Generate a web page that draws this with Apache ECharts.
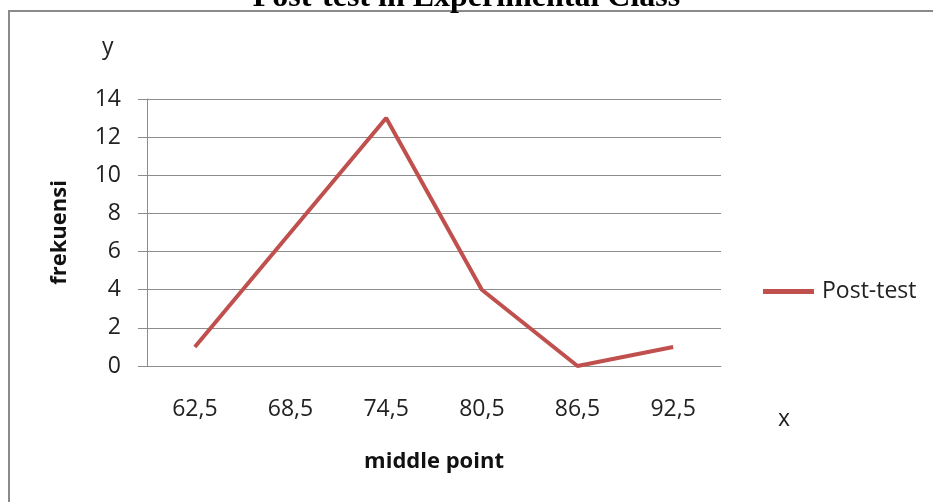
<!DOCTYPE html>
<html>
<head>
<meta charset="utf-8">
<script src="https://cdn.jsdelivr.net/npm/echarts@6/dist/echarts.min.js"></script>
<style>
  html, body { margin: 0; padding: 0; background: #fff; }
  #chart { width: 933px; height: 502px; }
</style>
</head>
<body>
<div id="chart"></div>
<script>
// Frequency of post-test scores by class middle point
const middlePoints = ['62,5', '68,5', '74,5', '80,5', '86,5', '92,5'];
const postTest = [1, 7, 13, 4, 0, 1];
const yTicks = { min: 0, max: 14, interval: 2 };

const FONT = '"Open Sans", "DejaVu Sans", sans-serif';
const chart = echarts.init(document.getElementById('chart'));

chart.setOption({
  animation: false,
  backgroundColor: '#fff',
  grid: { left: 147, right: 212, top: 99, bottom: 136, containLabel: false },
  legend: {
    left: 763, top: 280, padding: 0,
    itemWidth: 51, itemHeight: 5, itemGap: 0,
    icon: 'rect',
    textStyle: { fontFamily: FONT, fontSize: 23, color: '#222', padding: [0, 0, 0, 3] },
    data: ['Post-test']
  },
  xAxis: {
    type: 'category',
    data: middlePoints,
    boundaryGap: true,
    name: 'middle point',
    nameLocation: 'middle',
    nameGap: 85,
    nameTextStyle: { fontFamily: FONT, fontSize: 22, fontWeight: 'bold', color: '#111' },
    axisLine: { show: true, lineStyle: { color: '#8c8c8c', width: 1 } },
    axisTick: { show: false },
    axisLabel: { margin: 32, fontFamily: FONT, fontSize: 23, color: '#222' },
    splitLine: { show: false }
  },
  yAxis: {
    type: 'value',
    min: yTicks.min, max: yTicks.max, interval: yTicks.interval,
    name: 'frekuensi',
    nameLocation: 'middle',
    nameGap: 76,
    nameTextStyle: { fontFamily: FONT, fontSize: 22, fontWeight: 'bold', color: '#111' },
    axisLine: { show: true, lineStyle: { color: '#8c8c8c', width: 1 } },
    axisTick: { show: true, inside: false, length: 9, lineStyle: { color: '#8c8c8c' } },
    axisLabel: { margin: 26, fontFamily: FONT, fontSize: 23, color: '#222' },
    splitLine: { show: true, lineStyle: { color: '#8c8c8c', width: 1 } }
  },
  series: [{
    name: 'Post-test',
    type: 'line',
    data: postTest,
    symbol: 'none',
    color: '#C0504D',
    lineStyle: { color: '#C0504D', width: 4 }
  }],
  graphic: [
    {
      type: 'rect', silent: true, z: -1,
      shape: { x: 9, y: 11, width: 1000, height: 600 },
      style: { fill: 'none', stroke: '#8a8a8a', lineWidth: 2 }
    },
    {
      type: 'text', left: 'center', top: -18,
      style: {
        text: 'Post-test in Experimental Class',
        font: 'bold 32px "Liberation Serif", "DejaVu Serif", serif',
        fill: '#000'
      }
    },
    {
      type: 'text', left: 102, top: 36,
      style: { text: 'y', font: '23px ' + FONT, fill: '#222' }
    },
    {
      type: 'text', left: 778, top: 408,
      style: { text: 'x', font: '23px ' + FONT, fill: '#222' }
    }
  ]
});
</script>
</body>
</html>
